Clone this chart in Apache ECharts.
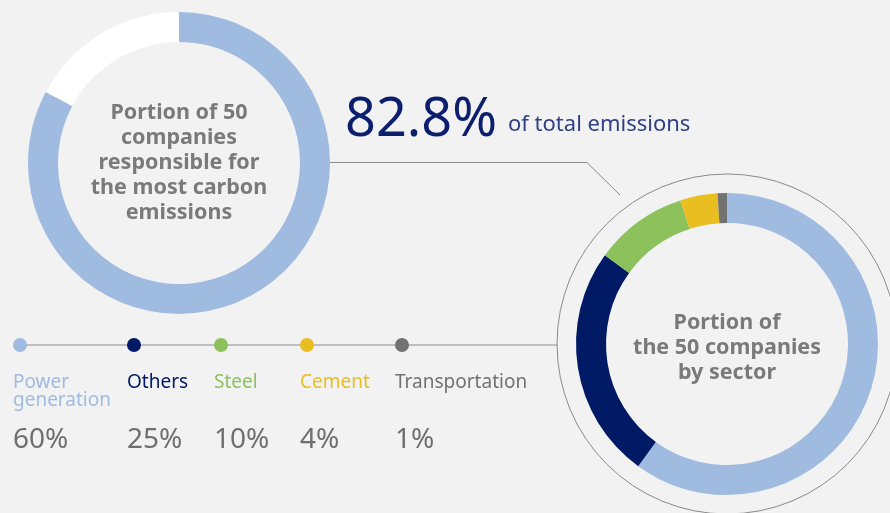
<!DOCTYPE html>
<html><head><meta charset="utf-8">
<script src="https://cdn.jsdelivr.net/npm/echarts@6/dist/echarts.min.js"></script>
<style>html,body{margin:0;padding:0;background:#f2f2f2}#c{width:890px;height:513px}</style>
</head><body><div id="c"></div>
<script>
// Data
const totalShare = [82.8, 17.2];           // share of total emissions by top-50 companies, remainder
const sectors = ['Power generation', 'Others', 'Steel', 'Cement', 'Transportation'];
const sectorValues = [60, 25, 10, 4, 1];
const sectorLabels = ['Power\ngeneration', 'Others', 'Steel', 'Cement', 'Transportation'];
const headline = '82.8%';

// Styles
const sectorColors = ['#a0bbe0', '#001a66', '#8cc15b', '#e8be21', '#727272'];
const legendX = [20, 134, 221, 307, 402];
const FONT = '"Noto Sans", sans-serif';

const chart = echarts.init(document.getElementById('c'), null, {renderer: 'canvas'});

const graphics = [
  {type: 'circle', shape: {cx: 727, cy: 344, r: 170}, style: {fill: 'none', stroke: '#8a8a8a', lineWidth: 1}, z: 1},
  {type: 'polyline', shape: {points: [[330, 162.5], [587, 162.5], [620, 195]]}, style: {fill: 'none', stroke: '#8a8a8a', lineWidth: 1}, z: 1},
  {type: 'line', shape: {x1: 20, y1: 345, x2: 557, y2: 345}, style: {stroke: '#8a8a8a', lineWidth: 1}, z: 1},
  {type: 'text', x: 345, y: 148, style: {text: headline, fill: '#0b1f6e', font: '54px ' + FONT, verticalAlign: 'bottom'}, z: 5},
  {type: 'text', x: 508, y: 114, style: {text: 'of total emissions', fill: '#2f3f86', font: '22px ' + FONT, verticalAlign: 'top'}, z: 5},
  {type: 'text', x: 179, y: 163, style: {text: 'Portion of 50\ncompanies\nresponsible for\nthe most carbon\nemissions', fill: '#7a7a7a', font: 'bold 21.5px ' + FONT, align: 'center', verticalAlign: 'middle', lineHeight: 25}, z: 5},
  {type: 'text', x: 727, y: 348, style: {text: 'Portion of\nthe 50 companies\nby sector', fill: '#7a7a7a', font: 'bold 21.5px ' + FONT, align: 'center', verticalAlign: 'middle', lineHeight: 25}, z: 5}
];
sectors.forEach((s, i) => {
  graphics.push({type: 'circle', shape: {cx: legendX[i], cy: 345, r: 7}, style: {fill: sectorColors[i]}, z: 3});
  graphics.push({type: 'text', x: legendX[i] - 7, y: 374, style: {text: sectorLabels[i], fill: sectorColors[i], font: '19px ' + FONT, lineHeight: 18, verticalAlign: 'top'}, z: 3});
  graphics.push({type: 'text', x: legendX[i] - 7, y: 426, style: {text: sectorValues[i] + '%', fill: '#6f6f6f', font: '28px ' + FONT, verticalAlign: 'top'}, z: 3});
});

chart.setOption({
  backgroundColor: '#f2f2f2',
  animation: false,
  series: [
    {
      type: 'pie', center: [179, 163], radius: [121, 151], startAngle: 90, clockwise: true,
      silent: true, label: {show: false}, labelLine: {show: false},
      itemStyle: {borderWidth: 0},
      data: [
        {value: totalShare[0], name: 'Top 50', itemStyle: {color: '#a0bbe0'}},
        {value: totalShare[1], name: 'Rest', itemStyle: {color: '#ffffff'}}
      ]
    },
    {
      type: 'pie', center: [727, 344], radius: [121, 151], startAngle: 90, clockwise: true,
      silent: true, label: {show: false}, labelLine: {show: false},
      itemStyle: {borderWidth: 0},
      data: sectors.map((s, i) => ({value: sectorValues[i], name: s, itemStyle: {color: sectorColors[i]}}))
    }
  ],
  graphic: graphics
});
</script></body></html>
